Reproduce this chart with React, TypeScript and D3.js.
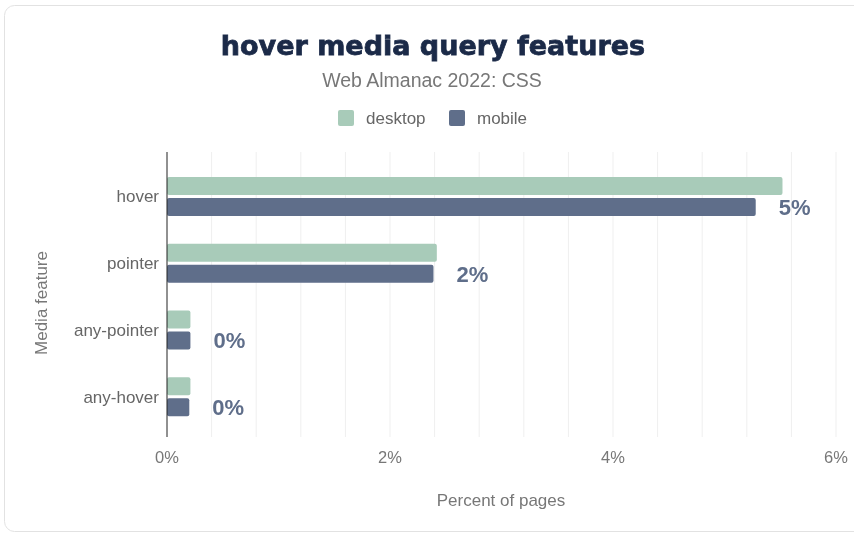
import React, { useEffect, useRef } from 'react';
import * as d3 from 'd3';

const categories = ['hover', 'pointer', 'any-pointer', 'any-hover'];
const desktopValues = [5.52, 2.42, 0.21, 0.21];
const mobileValues = [5.28, 2.39, 0.21, 0.2];
const xTicks = [0, 2, 4, 6];
const seriesNames = ['desktop', 'mobile'];

const DESKTOP = '#a8cbb9';
const MOBILE = '#5f6e8a';
const FONT = '"Liberation Sans", Arial, Helvetica, sans-serif';

const App = () => {
  const ref = useRef<SVGSVGElement>(null);

  useEffect(() => {
    if (!ref.current) return;
    const width = 854;
    const height = 533;

    const svg = d3.select(ref.current);
    svg.selectAll('*').remove();
    svg.attr('width', width).attr('height', height).style('font-family', FONT);

    // frame
    svg.append('rect')
      .attr('x', 4.5).attr('y', 5.5)
      .attr('width', 870).attr('height', 526)
      .attr('rx', 10)
      .attr('fill', '#fff')
      .attr('stroke', '#e2e2e2');

    const x = d3.scaleLinear().domain([0, 6]).range([167, 836]);
    const y = d3.scaleBand().domain(categories).range([163, 430]).padding(0);
    const top = 152;
    const bottom = 437;

    // gridlines
    const grid = d3.range(0, 6.0001, 0.4);
    svg.append('g').selectAll('line')
      .data(grid.slice(1))
      .join('line')
      .attr('x1', d => x(d)).attr('x2', d => x(d))
      .attr('y1', top).attr('y2', bottom)
      .attr('stroke', '#efefef');

    // tick labels
    svg.append('g').selectAll('text')
      .data(xTicks)
      .join('text')
      .attr('x', d => x(d))
      .attr('y', 463)
      .attr('text-anchor', 'middle')
      .attr('fill', '#777')
      .style('font-size', '16.5px')
      .text(d => `${d}%`);

    const barH = 18;
    const gap = 3;

    const groups = svg.append('g').selectAll('g')
      .data(categories)
      .join('g');

    groups.append('rect')
      .attr('x', x(0))
      .attr('y', d => y(d)! + y.bandwidth() / 2 - barH - gap / 2)
      .attr('width', (d, i) => x(desktopValues[i]) - x(0))
      .attr('height', barH)
      .attr('rx', 2)
      .attr('fill', DESKTOP);

    groups.append('rect')
      .attr('x', x(0))
      .attr('y', d => y(d)! + y.bandwidth() / 2 + gap / 2)
      .attr('width', (d, i) => x(mobileValues[i]) - x(0))
      .attr('height', barH)
      .attr('rx', 2)
      .attr('fill', MOBILE);

    groups.append('text')
      .attr('x', (d, i) => x(mobileValues[i]) + 23)
      .attr('y', d => y(d)! + y.bandwidth() / 2 + gap / 2 + barH - 1)
      .attr('fill', MOBILE)
      .style('font-size', '22px')
      .style('font-weight', 'bold')
      .text((d, i) => `${Math.round(mobileValues[i] - 0.3)}%`);

    groups.append('text')
      .attr('x', 159)
      .attr('y', d => y(d)! + y.bandwidth() / 2 + 6)
      .attr('text-anchor', 'end')
      .attr('fill', '#666')
      .style('font-size', '17px')
      .text(d => d);

    // y axis line
    svg.append('line')
      .attr('x1', x(0)).attr('x2', x(0))
      .attr('y1', top).attr('y2', bottom)
      .attr('stroke', '#222')
      .attr('stroke-width', 1);

    // titles
    svg.append('text')
      .attr('x', 433).attr('y', 55)
      .attr('text-anchor', 'middle')
      .attr('fill', '#1b2a48')
      .attr('stroke', '#1b2a48')
      .attr('stroke-width', 0.8)
      .style('font-family', '"DejaVu Sans", sans-serif')
      .style('font-size', '27px')
      .style('font-weight', 'bold')
      .text('hover media query features');

    svg.append('text')
      .attr('x', 432).attr('y', 87)
      .attr('text-anchor', 'middle')
      .attr('fill', '#777')
      .style('font-size', '19.5px')
      .text('Web Almanac 2022: CSS');

    // legend
    const legendX = [338, 449];
    const legend = svg.append('g').selectAll('g')
      .data(seriesNames)
      .join('g')
      .attr('transform', (d, i) => `translate(${legendX[i]},110)`);
    legend.append('rect')
      .attr('width', 16).attr('height', 16).attr('rx', 2)
      .attr('fill', (d, i) => (i === 0 ? DESKTOP : MOBILE));
    legend.append('text')
      .attr('x', 28).attr('y', 14)
      .attr('fill', '#666')
      .style('font-size', '17px')
      .text(d => d);

    // axis titles
    svg.append('text')
      .attr('x', 501).attr('y', 506)
      .attr('text-anchor', 'middle')
      .attr('fill', '#777')
      .style('font-size', '17px')
      .text('Percent of pages');

    svg.append('text')
      .attr('transform', 'translate(47,303) rotate(-90)')
      .attr('text-anchor', 'middle')
      .attr('fill', '#777')
      .style('font-size', '17px')
      .text('Media feature');
  }, []);

  return (
    <div style={{ position: 'fixed', left: 0, top: 0 }}>
      <svg ref={ref} />
    </div>
  );
};

export default App;
